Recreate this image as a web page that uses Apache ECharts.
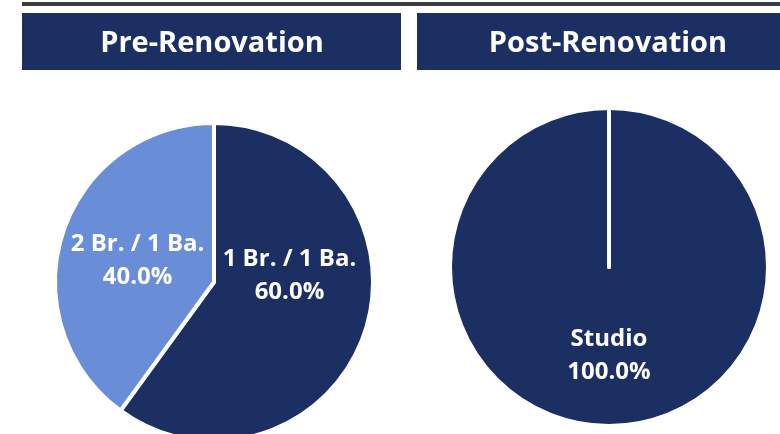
<!DOCTYPE html>
<html>
<head>
<meta charset="utf-8">
<script src="https://cdn.jsdelivr.net/npm/echarts@6/dist/echarts.min.js"></script>
<style>
  html, body { margin: 0; padding: 0; background: #ffffff; }
  #chart { width: 780px; height: 434px; }
</style>
</head>
<body>
<div id="chart"></div>
<script>
// Unit mix before and after the renovation
const panelTitles = ['Pre-Renovation', 'Post-Renovation'];
const unitTypes = ['1 Br. / 1 Ba.', '2 Br. / 1 Ba.', 'Studio'];
const preMix = [60, 40, 0];
const postMix = [0, 0, 100];

const NAVY = '#1b2f63';
const LIGHT = '#6a8dd7';
const sliceColors = [NAVY, LIGHT, NAVY];

// Per-slice nudges for the inside labels
const preLabelOffset = [[-3, -32], [2, 4], [0, 0]];
const postLabelOffset = [[0, 0], [0, 0], [0, 6]];

function buildData(values, offsets) {
  return unitTypes.map((name, i) => ({
    name: name,
    value: values[i],
    itemStyle: { color: sliceColors[i] },
    label: values[i] > 0 ? { show: true, offset: offsets[i] } : { show: false }
  }));
}

const labelStyle = {
  position: 'inside',
  color: '#ffffff',
  fontFamily: 'Open Sans',
  fontWeight: 'bold',
  fontSize: 24,
  lineHeight: 33,
  formatter: p => p.name + '\n' + p.value.toFixed(1) + '%'
};

const pieBase = {
  type: 'pie',
  clockwise: true,
  startAngle: 90,
  radius: 159,
  silent: true,
  animation: false,
  avoidLabelOverlap: false,
  labelLine: { show: false },
  itemStyle: { borderColor: '#ffffff', borderWidth: 4 },
  label: labelStyle
};

const titleText = { color: '#ffffff', fontFamily: 'Open Sans', fontWeight: 'bold', fontSize: 29 };

const chart = echarts.init(document.getElementById('chart'), null, { renderer: 'canvas' });

chart.setOption({
  backgroundColor: '#ffffff',
  graphic: [
    // rule across the top
    { type: 'rect', shape: { x: 22, y: 2, width: 758, height: 4 }, style: { fill: '#3d3d3d' }, silent: true },
    // header bars
    { type: 'rect', shape: { x: 22, y: 13, width: 379, height: 57 }, style: { fill: NAVY }, silent: true },
    { type: 'rect', shape: { x: 417, y: 13, width: 363, height: 57 }, style: { fill: NAVY }, silent: true }
  ],
  title: [
    { text: panelTitles[0], left: 207, top: 39, textAlign: 'center', textVerticalAlign: 'middle', textStyle: titleText },
    { text: panelTitles[1], left: 603, top: 39, textAlign: 'center', textVerticalAlign: 'middle', textStyle: titleText }
  ],
  series: [
    Object.assign({}, pieBase, { center: [214, 282], data: buildData(preMix, preLabelOffset) }),
    // studio slice first so the empty slices' white edges are drawn over it
    Object.assign({}, pieBase, { center: [609, 267], data: buildData(postMix, postLabelOffset).reverse() })
  ]
});
</script>
</body>
</html>
